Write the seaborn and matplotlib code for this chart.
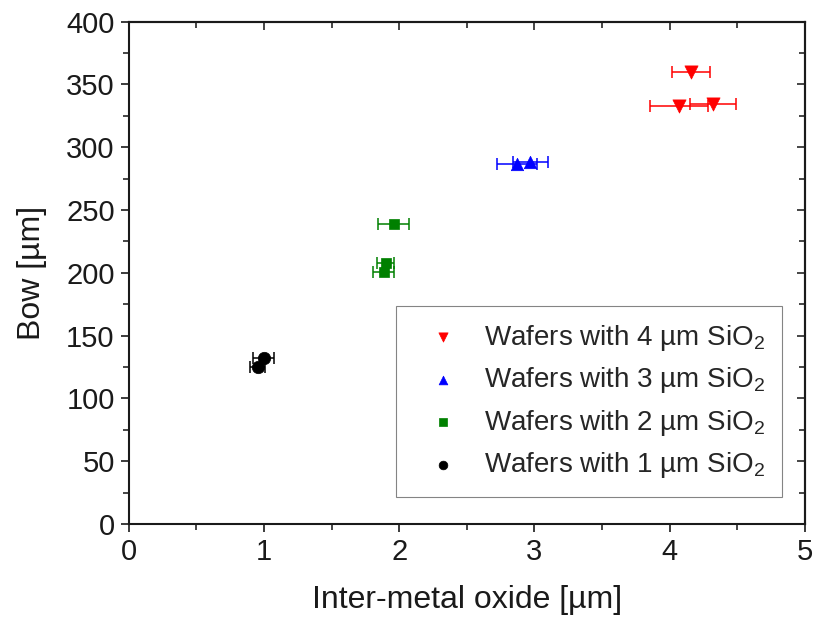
import pandas as pd
import matplotlib
matplotlib.use("Agg")
import matplotlib.pyplot as plt
import seaborn as sns
from matplotlib.ticker import MultipleLocator

sns.set_style("ticks")
plt.rcParams['font.family'] = ['Liberation Sans', 'DejaVu Sans']
plt.rcParams['mathtext.fontset'] = 'custom'
plt.rcParams['mathtext.rm'] = 'Liberation Sans'
plt.rcParams['mathtext.it'] = 'Liberation Sans'

# --- data ---
groups = ["4", "3", "2", "1"]
x_4um = [4.16, 4.07, 4.32]
y_4um = [360, 332.5, 334.5]
xerr_4um = [0.14, 0.215, 0.17]

x_3um = [2.87, 2.97]
y_3um = [287, 288]
xerr_3um = [0.15, 0.13]

x_2um = [1.96, 1.90, 1.885]
y_2um = [239, 207.5, 201]
xerr_2um = [0.115, 0.065, 0.08]

x_1um = [1.0, 0.955]
y_1um = [132, 125]
xerr_1um = [0.077, 0.055]

series = {
    "4": (x_4um, y_4um, xerr_4um),
    "3": (x_3um, y_3um, xerr_3um),
    "2": (x_2um, y_2um, xerr_2um),
    "1": (x_1um, y_1um, xerr_1um),
}
colors = {"4": "#ff0000", "3": "#0000ff", "2": "#008000", "1": "#000000"}
markers = {"4": "v", "3": "^", "2": "s", "1": "o"}

rows = []
for g in groups:
    xs, ys, es = series[g]
    for x, y, e in zip(xs, ys, es):
        rows.append({"oxide": x, "bow": y, "xerr": e,
                     "group": f"Wafers with {g} µm SiO$_2$"})
df = pd.DataFrame(rows)

fig, ax = plt.subplots(figsize=(8.19, 6.18), dpi=100)
fig.subplots_adjust(left=0.157, right=0.983, top=0.965, bottom=0.152)

# error bars first, then markers on top
for g in groups:
    sub = df[df["group"] == f"Wafers with {g} µm SiO$_2$"]
    ax.errorbar(sub["oxide"], sub["bow"], xerr=sub["xerr"], fmt="none",
                ecolor=colors[g], elinewidth=1.1, capsize=4, capthick=1.1, zorder=2)

sizes_map = {"4": 90, "3": 80, "2": 55, "1": 80}
for g in groups:
    sub = df[df["group"] == f"Wafers with {g} µm SiO$_2$"]
    sns.scatterplot(data=sub, x="oxide", y="bow", color=colors[g], marker=markers[g],
                    s=sizes_map[g], edgecolor=colors[g], linewidth=0.5,
                    label=f"Wafers with {g} µm SiO$_2$", ax=ax, zorder=3)

ax.set_xlim(0, 5)
ax.set_ylim(0, 400)
ax.xaxis.set_major_locator(MultipleLocator(1))
ax.xaxis.set_minor_locator(MultipleLocator(0.5))
ax.yaxis.set_major_locator(MultipleLocator(50))
ax.yaxis.set_minor_locator(MultipleLocator(25))

ax.tick_params(which="major", direction="out", length=6, width=1.2,
               labelsize=21, colors="#1a1a1a", pad=4)
ax.tick_params(which="minor", direction="out", length=4, width=1.2)

# inward ticks on top and right
top = ax.secondary_xaxis("top")
top.xaxis.set_major_locator(MultipleLocator(1))
top.xaxis.set_minor_locator(MultipleLocator(0.5))
top.tick_params(which="major", direction="in", length=6, width=1.2, labeltop=False)
top.tick_params(which="minor", direction="in", length=4, width=1.2)
right = ax.secondary_yaxis("right")
right.yaxis.set_major_locator(MultipleLocator(50))
right.yaxis.set_minor_locator(MultipleLocator(25))
right.tick_params(which="major", direction="in", length=6, width=1.2, labelright=False)
right.tick_params(which="minor", direction="in", length=4, width=1.2)

for sp in list(ax.spines.values()) + [top.spines["top"], right.spines["right"]]:
    sp.set_linewidth(1.5)
    sp.set_color("#1a1a1a")

ax.set_xlabel("Inter-metal oxide [µm]", fontsize=23, color="#1a1a1a", labelpad=14)
ax.set_ylabel("Bow [µm]", fontsize=23, color="#1a1a1a", labelpad=14)

leg = ax.legend(loc="lower right", bbox_to_anchor=(0.966, 0.054), borderaxespad=0,
                fontsize=20, frameon=True, fancybox=False, edgecolor="#666666",
                borderpad=0.6, labelspacing=0.45, handletextpad=0.4,
                handlelength=2.2, markerscale=0.7)
leg.get_frame().set_linewidth(0.8)

fig.savefig("out.png", dpi=100)
